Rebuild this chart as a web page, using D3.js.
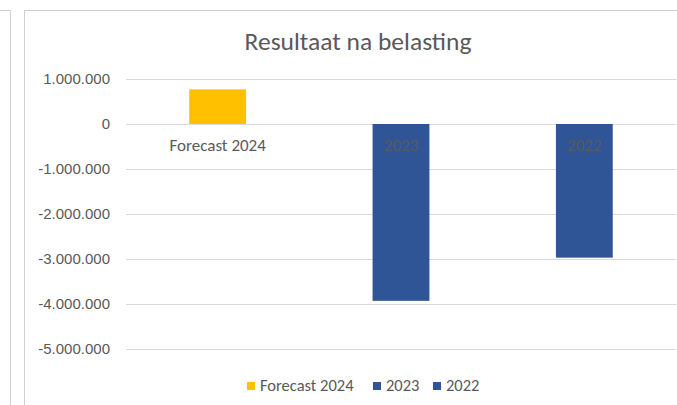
<!DOCTYPE html>
<html>
<head>
<meta charset="utf-8">
<script src="https://unpkg.com/d3@7/dist/d3.min.js"></script>
<style>
  body { margin: 0; background: #fff; }
  svg { display: block; font-family: Carlito, Calibri, "Liberation Sans", sans-serif; }
</style>
</head>
<body>
<script>
// data
const categories = ["Forecast 2024", "2023", "2022"];
const values = [770000, -3930000, -2970000];
const barColors = ["#FFC000", "#2F5597", "#2F5597"];
const yTickValues = [1000000, 0, -1000000, -2000000, -3000000, -4000000, -5000000];
const title = "Resultaat na belasting";

// layout
const width = 677;
const height = 405;
const plot = { left: 126, right: 676, top: 79, bottom: 349 };

const nl = d3.formatLocale({ decimal: ",", thousands: ".", grouping: [3], currency: ["€", ""], minus: "-" });
const fmt = nl.format(",d");

const x = d3
  .scaleBand()
  .domain(categories)
  .range([plot.left, plot.right])
  .paddingInner(0.69)
  .paddingOuter(0.345);

const y = d3
  .scaleLinear()
  .domain([-5000000, 1000000])
  .range([plot.bottom, plot.top]);

const svg = d3.select("body").append("svg").attr("width", width).attr("height", height);

// frames
svg.append("path")
  .attr("d", "M0,10.5H10.5V405")
  .attr("fill", "none")
  .attr("stroke", "#D0D0D0");
svg.append("rect")
  .attr("x", 24.5).attr("y", 10.5)
  .attr("width", 700).attr("height", 450)
  .attr("fill", "#fff")
  .attr("stroke", "#D0D0D0");

// title
svg.append("text")
  .attr("x", 358)
  .attr("y", 50)
  .attr("text-anchor", "middle")
  .attr("font-size", 25.5)
  .attr("fill", "#595959")
  .text(title);

// grid + y axis
const yAxis = d3.axisLeft(y)
  .tickValues(yTickValues)
  .tickFormat(fmt)
  .tickSize(-(plot.right - plot.left))
  .tickPadding(16);

const gy = svg.append("g")
  .attr("transform", `translate(${plot.left},0)`)
  .call(yAxis);
gy.select(".domain").remove();
gy.selectAll(".tick line").attr("stroke", "#D9D9D9").attr("stroke-width", 1);
gy.selectAll(".tick text")
  .attr("fill", "#595959")
  .attr("font-size", 15)
  .attr("font-family", null);

// bars
svg.append("g")
  .selectAll("rect")
  .data(categories)
  .join("rect")
  .attr("x", (d) => x(d))
  .attr("width", x.bandwidth())
  .attr("y", (d, i) => y(Math.max(0, values[i])))
  .attr("height", (d, i) => Math.abs(y(values[i]) - y(0)))
  .attr("fill", (d, i) => barColors[i]);

// category labels next to the zero line
svg.append("g")
  .selectAll("text")
  .data(categories)
  .join("text")
  .attr("x", (d) => x(d) + x.bandwidth() / 2)
  .attr("y", y(0) + 27)
  .attr("text-anchor", "middle")
  .attr("font-size", 17)
  .attr("fill", "#595959")
  .text((d) => d);

// legend
const legendX = [247, 373, 433];
const legend = svg.append("g");
const item = legend.selectAll("g")
  .data(categories)
  .join("g")
  .attr("transform", (d, i) => `translate(${legendX[i]},382)`);
item.append("rect")
  .attr("width", 8).attr("height", 8)
  .attr("fill", (d, i) => barColors[i]);
item.append("text")
  .attr("x", 13)
  .attr("y", 9)
  .attr("font-size", 16.5)
  .attr("fill", "#595959")
  .text((d) => d);
</script>
</body>
</html>
